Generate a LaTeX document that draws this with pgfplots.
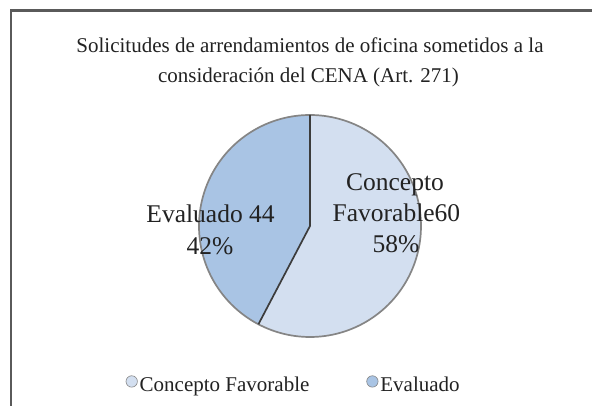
\documentclass[border=0pt]{standalone}
\usepackage{pgfplots}
\usepackage{pgfplotstable}
\pgfplotsset{compat=1.18}
\usepackage{fontspec}
\setmainfont{Liberation Serif}
\definecolor{cfav}{HTML}{D3DFF0}
\definecolor{ceval}{HTML}{A9C4E4}
\definecolor{rimgray}{HTML}{858585}
\definecolor{edgegray}{HTML}{3C3C3C}
\definecolor{framegray}{HTML}{5A5A5A}
\definecolor{txt}{HTML}{222222}
\pgfplotstableread{
idx value
0 60
1 44
}\piedata
\pgfplotstablegetelem{0}{value}\of\piedata \let\va\pgfplotsretval
\pgfplotstablegetelem{1}{value}\of\piedata \let\vb\pgfplotsretval
\pgfmathsetmacro\fa{\va/(\va+\vb)}
\pgfmathsetmacro\fb{\vb/(\va+\vb)}
\pgfmathsetmacro\aend{90-360*\fa}
\pgfmathsetmacro\bend{\aend-360*\fb}
\pgfmathsetmacro\ex{cos(\aend)}
\pgfmathsetmacro\ey{sin(\aend)}
\begin{document}
\begin{tikzpicture}[x=1pt,y=1pt]
\useasboundingbox (0,0) rectangle (592,406);
\fill[white] (0,0) rectangle (592,406);
\draw[framegray, line width=2.5pt] (11,-20) -- (11,395.5) -- (620,395.5);
\node[txt, font=\fontsize{21}{25}\selectfont, anchor=base, inner sep=0pt] at (310,353) {Solicitudes de arrendamientos de oficina sometidos a la};
\node[txt, font=\fontsize{21}{25}\selectfont, anchor=base, inner sep=0pt] at (308.5,323) {consideración del CENA (Art. 271)};
\begin{axis}[
  at={(310pt,180pt)}, anchor=center,
  scale only axis, x=111pt, y=111pt,
  xmin=-1.05, xmax=1.05, ymin=-1.05, ymax=1.05,
  hide axis, clip=false,
  legend columns=2,
  legend image code/.code={\filldraw[#1] (5.5pt,4pt) circle (5.7pt);},
  legend style={draw=none, fill=none, font=\fontsize{21}{25}\selectfont, text=txt,
    at={(-0.2915,-0.182)}, anchor=west, inner sep=0pt,
    /tikz/every odd column/.append style={column sep=0pt},
    /tikz/every even column/.append style={column sep=55pt},
    nodes={inner xsep=2pt, inner ysep=1pt}},
  legend cell align=left,
]
\addplot[forget plot, fill=cfav, draw=none, domain=\aend:90, samples=150] ({cos(x)},{sin(x)}) -- (0,0) -- cycle;
\addplot[forget plot, fill=ceval, draw=none, domain=\bend:\aend, samples=150] ({cos(x)},{sin(x)}) -- (0,0) -- cycle;
\addplot[forget plot, draw=rimgray, line width=1.7pt, domain=0:360, samples=240] ({cos(x)},{sin(x)});
\addplot[forget plot, draw=edgegray, line width=1.7pt] coordinates {(0,1) (0,0) (\ex,\ey)};
\begin{scope}[every node/.style={txt, font=\fontsize{25.5}{30}\selectfont, anchor=base, inner sep=0pt}]
\node at (0.766,0.324) {Concepto};
\node at (0.779,0.036) {Favorable60};
\node at (0.775,-0.243) {58\%};
\node at (-0.896,0.027) {Evaluado 44};
\node at (-0.90,-0.261) {42\%};
\end{scope}
\addlegendimage{fill=cfav, draw=rimgray, line width=0.6pt}
\addlegendentry{Concepto Favorable}
\addlegendimage{fill=ceval, draw=rimgray, line width=0.6pt}
\addlegendentry{Evaluado}
\end{axis}
\end{tikzpicture}
\end{document}
